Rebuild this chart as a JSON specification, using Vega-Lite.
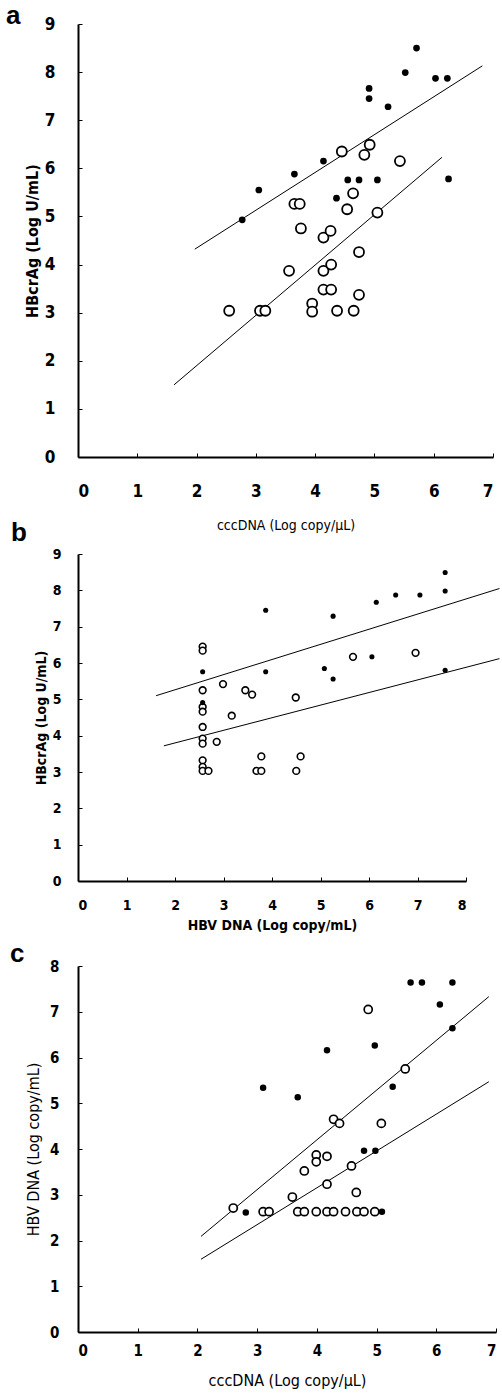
{
  "$schema": "https://vega.github.io/schema/vega-lite/v6.json",
  "background": "white",
  "padding": {"left": 6, "top": 3, "right": 0, "bottom": 5},
  "bounds": "flush",
  "spacing": 97,
  "config": {
    "view": {"stroke": null},
    "axis": {
      "grid": false,
      "domainColor": "black",
      "domainWidth": 2,
      "tickColor": "black",
      "tickSize": -4,
      "tickWidth": 1,
      "labelColor": "black",
      "titleColor": "black",
      "labelFont": "Liberation Sans Narrow, DejaVu Sans Condensed, sans-serif",
      "titleFont": "Liberation Sans Narrow, DejaVu Sans Condensed, sans-serif",
      "labelFontWeight": "bold"
    },
    "title": {"font": "Liberation Sans, Arial, sans-serif", "fontWeight": "bold", "color": "black"}
  },
  "datasets": {
    "a_pts": [
      {"x": 2.77, "y": 4.93, "g": "filled"}, {"x": 3.05, "y": 5.55, "g": "filled"}, {"x": 3.65, "y": 5.88, "g": "filled"},
      {"x": 4.14, "y": 6.15, "g": "filled"}, {"x": 4.36, "y": 5.38, "g": "filled"}, {"x": 4.55, "y": 5.76, "g": "filled"},
      {"x": 4.74, "y": 5.76, "g": "filled"}, {"x": 4.91, "y": 7.66, "g": "filled"}, {"x": 4.91, "y": 7.45, "g": "filled"},
      {"x": 5.05, "y": 5.76, "g": "filled"}, {"x": 5.23, "y": 7.28, "g": "filled"}, {"x": 5.52, "y": 7.99, "g": "filled"},
      {"x": 5.71, "y": 8.5, "g": "filled"}, {"x": 6.03, "y": 7.87, "g": "filled"}, {"x": 6.23, "y": 7.87, "g": "filled"},
      {"x": 6.25, "y": 5.78, "g": "filled"},
      {"x": 4.45, "y": 6.35, "g": "open"}, {"x": 4.83, "y": 6.28, "g": "open"}, {"x": 4.92, "y": 6.49, "g": "open"},
      {"x": 5.43, "y": 6.15, "g": "open"}, {"x": 4.64, "y": 5.48, "g": "open"}, {"x": 4.54, "y": 5.15, "g": "open"},
      {"x": 3.65, "y": 5.26, "g": "open"}, {"x": 3.74, "y": 5.26, "g": "open"}, {"x": 3.76, "y": 4.75, "g": "open"},
      {"x": 4.14, "y": 4.56, "g": "open"}, {"x": 4.26, "y": 4.7, "g": "open"}, {"x": 5.05, "y": 5.08, "g": "open"},
      {"x": 4.74, "y": 4.26, "g": "open"}, {"x": 3.56, "y": 3.87, "g": "open"}, {"x": 4.14, "y": 3.87, "g": "open"},
      {"x": 4.27, "y": 4.0, "g": "open"}, {"x": 2.55, "y": 3.04, "g": "open"}, {"x": 3.07, "y": 3.04, "g": "open"},
      {"x": 3.16, "y": 3.04, "g": "open"}, {"x": 4.14, "y": 3.48, "g": "open"}, {"x": 4.27, "y": 3.48, "g": "open"},
      {"x": 3.95, "y": 3.19, "g": "open"}, {"x": 3.95, "y": 3.02, "g": "open"}, {"x": 4.37, "y": 3.04, "g": "open"},
      {"x": 4.65, "y": 3.04, "g": "open"}, {"x": 4.74, "y": 3.37, "g": "open"}
    ],
    "a_lines": [
      {"line": "upper", "x": 1.97, "y": 4.32}, {"line": "upper", "x": 6.82, "y": 8.13},
      {"line": "lower", "x": 1.62, "y": 1.5}, {"line": "lower", "x": 6.14, "y": 6.23}
    ],
    "b_pts": [
      {"x": 7.57, "y": 8.49, "g": "filled"}, {"x": 7.57, "y": 7.98, "g": "filled"}, {"x": 7.57, "y": 5.8, "g": "filled"},
      {"x": 6.55, "y": 7.87, "g": "filled"}, {"x": 7.05, "y": 7.87, "g": "filled"}, {"x": 6.15, "y": 7.67, "g": "filled"},
      {"x": 5.26, "y": 7.29, "g": "filled"}, {"x": 3.87, "y": 7.45, "g": "filled"}, {"x": 3.87, "y": 5.76, "g": "filled"},
      {"x": 5.08, "y": 5.85, "g": "filled"}, {"x": 5.26, "y": 5.56, "g": "filled"}, {"x": 6.06, "y": 6.17, "g": "filled"},
      {"x": 2.57, "y": 5.76, "g": "filled"}, {"x": 2.57, "y": 4.91, "g": "filled"},
      {"x": 2.57, "y": 6.45, "g": "open"}, {"x": 2.57, "y": 6.34, "g": "open"}, {"x": 2.57, "y": 5.25, "g": "open"},
      {"x": 2.57, "y": 4.79, "g": "open"}, {"x": 2.57, "y": 4.66, "g": "open"}, {"x": 2.57, "y": 4.24, "g": "open"},
      {"x": 2.57, "y": 3.92, "g": "open"}, {"x": 2.57, "y": 3.78, "g": "open"}, {"x": 2.57, "y": 3.32, "g": "open"},
      {"x": 2.57, "y": 3.14, "g": "open"}, {"x": 2.57, "y": 3.03, "g": "open"}, {"x": 2.69, "y": 3.03, "g": "open"},
      {"x": 2.99, "y": 5.42, "g": "open"}, {"x": 3.17, "y": 4.55, "g": "open"}, {"x": 2.86, "y": 3.83, "g": "open"},
      {"x": 3.45, "y": 5.25, "g": "open"}, {"x": 3.59, "y": 5.13, "g": "open"}, {"x": 3.68, "y": 3.03, "g": "open"},
      {"x": 3.78, "y": 3.03, "g": "open"}, {"x": 3.78, "y": 3.43, "g": "open"}, {"x": 4.49, "y": 5.05, "g": "open"},
      {"x": 4.5, "y": 3.03, "g": "open"}, {"x": 4.59, "y": 3.43, "g": "open"}, {"x": 5.67, "y": 6.17, "g": "open"},
      {"x": 6.96, "y": 6.28, "g": "open"}
    ],
    "b_lines": [
      {"line": "upper", "x": 1.61, "y": 5.1}, {"line": "upper", "x": 8.69, "y": 8.05},
      {"line": "lower", "x": 1.77, "y": 3.72}, {"line": "lower", "x": 8.69, "y": 6.12}
    ],
    "c_pts": [
      {"x": 5.57, "y": 7.64, "g": "filled"}, {"x": 5.76, "y": 7.64, "g": "filled"}, {"x": 6.27, "y": 7.64, "g": "filled"},
      {"x": 6.06, "y": 7.16, "g": "filled"}, {"x": 6.27, "y": 6.64, "g": "filled"}, {"x": 4.97, "y": 6.26, "g": "filled"},
      {"x": 4.17, "y": 6.16, "g": "filled"}, {"x": 3.1, "y": 5.34, "g": "filled"}, {"x": 3.68, "y": 5.13, "g": "filled"},
      {"x": 5.27, "y": 5.36, "g": "filled"}, {"x": 4.79, "y": 3.96, "g": "filled"}, {"x": 4.98, "y": 3.96, "g": "filled"},
      {"x": 2.81, "y": 2.61, "g": "filled"}, {"x": 5.09, "y": 2.63, "g": "filled"},
      {"x": 4.86, "y": 7.05, "g": "open"}, {"x": 5.48, "y": 5.75, "g": "open"}, {"x": 4.28, "y": 4.65, "g": "open"},
      {"x": 4.38, "y": 4.56, "g": "open"}, {"x": 5.08, "y": 4.56, "g": "open"}, {"x": 3.99, "y": 3.87, "g": "open"},
      {"x": 3.99, "y": 3.72, "g": "open"}, {"x": 4.17, "y": 3.84, "g": "open"}, {"x": 3.79, "y": 3.52, "g": "open"},
      {"x": 4.58, "y": 3.63, "g": "open"}, {"x": 4.17, "y": 3.23, "g": "open"}, {"x": 3.59, "y": 2.95, "g": "open"},
      {"x": 4.66, "y": 3.05, "g": "open"}, {"x": 2.6, "y": 2.71, "g": "open"}, {"x": 3.1, "y": 2.63, "g": "open"},
      {"x": 3.2, "y": 2.63, "g": "open"}, {"x": 3.68, "y": 2.63, "g": "open"}, {"x": 3.79, "y": 2.63, "g": "open"},
      {"x": 3.99, "y": 2.63, "g": "open"}, {"x": 4.17, "y": 2.63, "g": "open"}, {"x": 4.28, "y": 2.63, "g": "open"},
      {"x": 4.48, "y": 2.63, "g": "open"}, {"x": 4.67, "y": 2.63, "g": "open"}, {"x": 4.79, "y": 2.63, "g": "open"},
      {"x": 4.97, "y": 2.63, "g": "open"}
    ],
    "c_lines": [
      {"line": "upper", "x": 2.06, "y": 2.09}, {"line": "upper", "x": 6.88, "y": 7.33},
      {"line": "lower", "x": 2.06, "y": 1.59}, {"line": "lower", "x": 6.88, "y": 5.47}
    ]
  },
  "vconcat": [
    {
      "width": 415,
      "height": 433,
      "title": {"text": "a", "anchor": "start", "frame": "group", "dx": -72, "fontSize": 26, "baseline": "alphabetic", "offset": 0, "dy": 35},
      "encoding": {
        "x": {"field": "x", "type": "quantitative",
          "scale": {"domain": [0, 7], "nice": false},
          "axis": {"values": [0, 1, 2, 3, 4, 5, 6, 7], "title": "cccDNA (Log copy/μL)", "labelFontSize": 17, "labelPadding": 30, "titleFontSize": 14, "titleFontWeight": "normal", "titlePadding": 19}},
        "y": {"field": "y", "type": "quantitative",
          "scale": {"domain": [0, 9], "nice": false},
          "axis": {"values": [0, 1, 2, 3, 4, 5, 6, 7, 8, 9], "title": "HBcrAg (Log U/mL)", "labelFontSize": 17, "labelPadding": 27, "titleFontSize": 16, "titleFontWeight": "bold", "titlePadding": 4}}
      },
      "layer": [
        {"data": {"name": "a_lines"}, "mark": {"type": "line", "color": "black", "strokeWidth": 1}, "encoding": {"detail": {"field": "line"}}},
        {"data": {"name": "a_pts"}, "transform": [{"filter": "datum.g == 'open'"}], "mark": {"type": "point", "shape": "circle", "filled": false, "fill": "white", "fillOpacity": 1, "stroke": "black", "strokeWidth": 1.8, "size": 100, "opacity": 1}},
        {"data": {"name": "a_pts"}, "transform": [{"filter": "datum.g == 'filled'"}], "mark": {"type": "circle", "color": "black", "size": 45, "opacity": 1}}
      ]
    },
    {
      "bounds": "flush",
      "spacing": 85,
      "vconcat": [
        {
          "width": 388,
          "height": 327,
          "title": {"text": "b", "anchor": "start", "frame": "group", "dx": -67, "fontSize": 26, "baseline": "alphabetic", "offset": 0, "dy": 20},
          "encoding": {
            "x": {"field": "x", "type": "quantitative",
              "scale": {"domain": [0, 8], "nice": false},
              "axis": {"values": [0, 1, 2, 3, 4, 5, 6, 7, 8], "title": "HBV DNA (Log copy/mL)", "labelFontSize": 14, "labelPadding": 21, "titleFontSize": 14, "titleFontWeight": "bold", "titlePadding": 6}},
            "y": {"field": "y", "type": "quantitative",
              "scale": {"domain": [0, 9], "nice": false},
              "axis": {"values": [0, 1, 2, 3, 4, 5, 6, 7, 8, 9], "title": "HBcrAg (Log U/mL)", "labelFontSize": 14, "labelPadding": 21, "titleFontSize": 14, "titleFontWeight": "bold", "titlePadding": 4}}
          },
          "layer": [
            {"data": {"name": "b_lines"}, "mark": {"type": "line", "color": "black", "strokeWidth": 1}, "encoding": {"detail": {"field": "line"}}},
            {"data": {"name": "b_pts"}, "transform": [{"filter": "datum.g == 'open'"}], "mark": {"type": "point", "shape": "circle", "filled": false, "fill": "white", "fillOpacity": 1, "stroke": "black", "strokeWidth": 1.6, "size": 45, "opacity": 1}},
            {"data": {"name": "b_pts"}, "transform": [{"filter": "datum.g == 'filled'"}], "mark": {"type": "circle", "color": "black", "size": 26, "opacity": 1}}
          ]
        },
        {
          "width": 418,
          "height": 366,
          "title": {"text": "c", "anchor": "start", "frame": "group", "dx": -68, "fontSize": 26, "baseline": "alphabetic", "offset": 0, "dy": 29},
          "encoding": {
            "x": {"field": "x", "type": "quantitative",
              "scale": {"domain": [0, 7], "nice": false},
              "axis": {"values": [0, 1, 2, 3, 4, 5, 6, 7], "title": "cccDNA (Log copy/μL)", "labelFontSize": 15, "labelPadding": 15, "titleFontSize": 16, "titleFontWeight": "normal", "titlePadding": 14}},
            "y": {"field": "y", "type": "quantitative",
              "scale": {"domain": [0, 8], "nice": false},
              "axis": {"values": [0, 1, 2, 3, 4, 5, 6, 7, 8], "title": "HBV DNA (Log copy/mL)", "labelFontSize": 15, "labelPadding": 23, "titleFontSize": 16, "titleFontWeight": "normal", "titlePadding": 8}}
          },
          "layer": [
            {"data": {"name": "c_lines"}, "mark": {"type": "line", "color": "black", "strokeWidth": 1}, "encoding": {"detail": {"field": "line"}}},
            {"data": {"name": "c_pts"}, "transform": [{"filter": "datum.g == 'open'"}], "mark": {"type": "point", "shape": "circle", "filled": false, "fill": "white", "fillOpacity": 1, "stroke": "black", "strokeWidth": 1.7, "size": 65, "opacity": 1}},
            {"data": {"name": "c_pts"}, "transform": [{"filter": "datum.g == 'filled'"}], "mark": {"type": "circle", "color": "black", "size": 42, "opacity": 1}}
          ]
        }
      ]
    }
  ]
}
